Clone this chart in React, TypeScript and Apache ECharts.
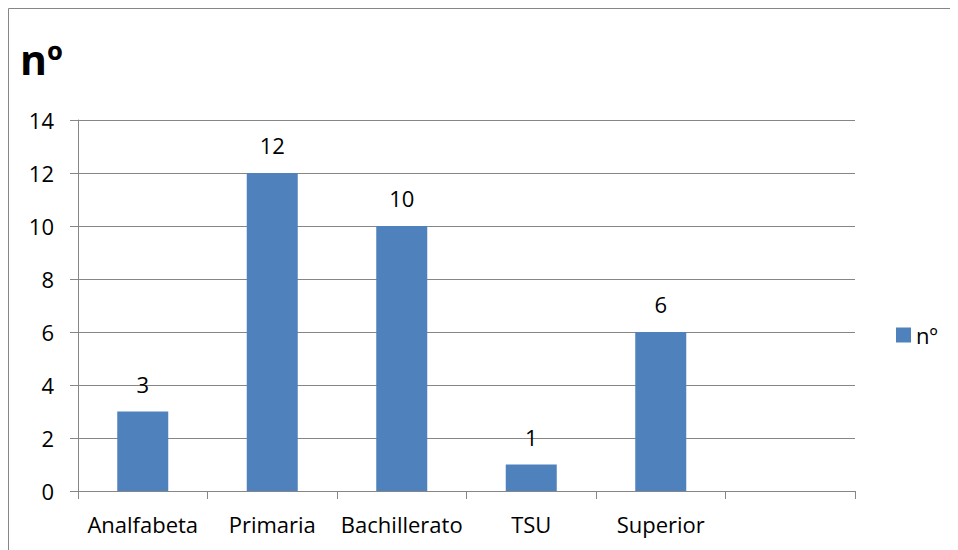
import React, { useEffect, useRef } from "react";
import * as echarts from "echarts";

const categories = ["Analfabeta", "Primaria", "Bachillerato", "TSU", "Superior", ""];
const values = [3, 12, 10, 1, 6, null];
const seriesName = "nº";
const titleText = "nº";
const yMin = 0;
const yMax = 14;
const yStep = 2;

const FONT = "Open Sans";
const GRAY = "#868686";
const BAR = "#4f81bd";

export default function App() {
  const ref = useRef<HTMLDivElement>(null);
  useEffect(() => {
    if (!ref.current) return;
    const chart = echarts.init(ref.current, undefined, { renderer: "svg" });
    chart.setOption({
      animation: false,
      backgroundColor: "#ffffff",
      textStyle: { fontFamily: FONT },
      graphic: [
        {
          type: "rect",
          shape: { x: 0.5, y: 0.5, width: 1000, height: 1000 },
          style: { fill: "none", stroke: GRAY, lineWidth: 1 },
          silent: true,
        },
      ],
      title: {
        text: titleText,
        left: 7,
        top: 25,
        textStyle: { fontFamily: FONT, fontWeight: "bold", fontSize: 41, color: "#000" },
      },
      legend: {
        orient: "vertical",
        left: 883,
        top: 311,
        itemWidth: 15,
        itemHeight: 15,
        itemGap: 6,
        icon: "rect",
        data: [seriesName],
        textStyle: { fontFamily: FONT, fontSize: 22, color: "#000" },
      },
      grid: { left: 70, top: 112, right: 103, bottom: 59, containLabel: false },
      xAxis: {
        type: "category",
        data: categories,
        boundaryGap: true,
        axisLine: { show: true, lineStyle: { color: GRAY, width: 1 } },
        axisTick: { show: true, length: 8, lineStyle: { color: GRAY }, alignWithLabel: false },
        axisLabel: { fontFamily: FONT, fontSize: 22, color: "#000", margin: 22, interval: 0 },
        splitLine: { show: false },
      },
      yAxis: {
        type: "value",
        min: yMin,
        max: yMax,
        interval: yStep,
        axisLine: { show: true, lineStyle: { color: GRAY, width: 1 } },
        axisTick: { show: true, length: 8, lineStyle: { color: GRAY } },
        axisLabel: { fontFamily: FONT, fontSize: 22, color: "#000", margin: 24 },
        splitLine: { show: true, lineStyle: { color: GRAY, width: 1 } },
      },
      series: [
        {
          name: seriesName,
          type: "bar",
          data: values,
          barWidth: 51,
          itemStyle: { color: BAR },
          label: {
            show: true,
            position: "top",
            distance: 17,
            fontFamily: FONT,
            fontSize: 22,
            color: "#000",
          },
        },
      ],
    });
    return () => chart.dispose();
  }, []);
  return <div ref={ref} style={{ width: 950, height: 542 }} />;
}
